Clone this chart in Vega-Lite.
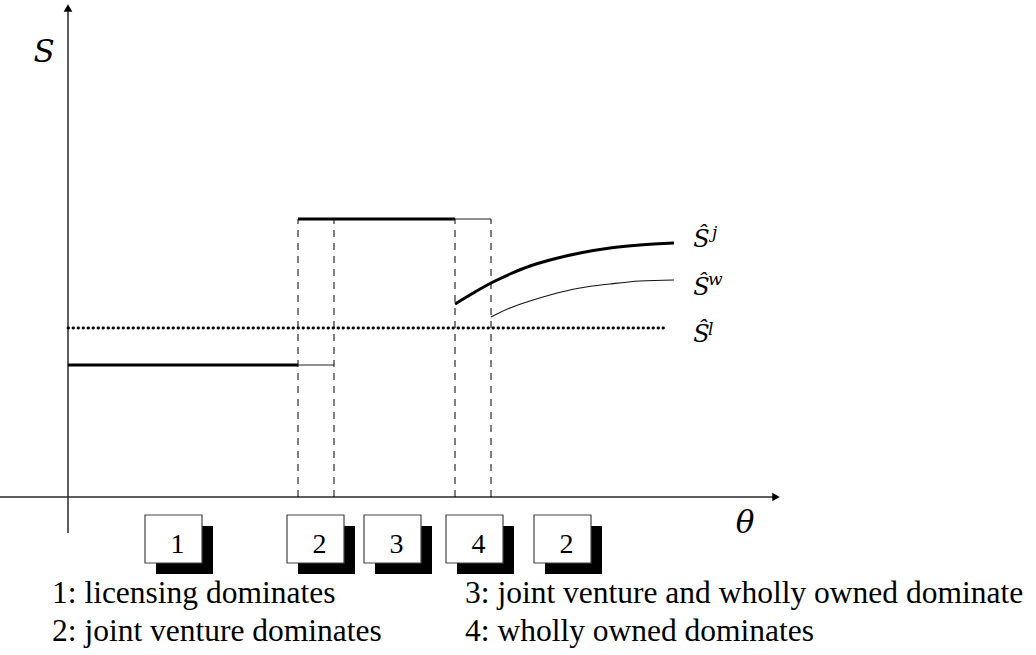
{
  "$schema": "https://vega.github.io/schema/vega-lite/v6.json",
  "width": 1036,
  "height": 655,
  "padding": 0,
  "autosize": {"type": "none"},
  "background": "white",
  "config": {"view": {"stroke": null}},
  "datasets": {
    "axes": [
      {"t": 0, "s": -36, "t2": 0, "s2": 486},
      {"t": -68, "s": 0, "t2": 705, "s2": 0}
    ],
    "arrows": [
      {"t": 0, "s": 489, "dir": "up"},
      {"t": 708, "s": 0, "dir": "right"}
    ],
    "thick": [
      {"t": 0, "s": 132, "t2": 230, "s2": 132},
      {"t": 230, "s": 278, "t2": 387, "s2": 278}
    ],
    "thin": [
      {"t": 230, "s": 132, "t2": 266, "s2": 132},
      {"t": 387, "s": 278, "t2": 423, "s2": 278}
    ],
    "dashed": [
      {"t": 230, "s": 0, "t2": 230, "s2": 278},
      {"t": 266, "s": 0, "t2": 266, "s2": 278},
      {"t": 387, "s": 0, "t2": 387, "s2": 278},
      {"t": 423, "s": 0, "t2": 423, "s2": 278}
    ],
    "dotted": [
      {"t": 0, "s": 169, "t2": 600, "s2": 169}
    ],
    "curveJ": [
      {"t": 387, "s": 193}, {"t": 407, "s": 205}, {"t": 423, "s": 214},
      {"t": 442, "s": 223}, {"t": 462, "s": 231}, {"t": 482, "s": 237},
      {"t": 512, "s": 244}, {"t": 542, "s": 249}, {"t": 572, "s": 252},
      {"t": 606, "s": 254}
    ],
    "curveW": [
      {"t": 423, "s": 180}, {"t": 442, "s": 189}, {"t": 462, "s": 196},
      {"t": 482, "s": 202}, {"t": 512, "s": 209}, {"t": 542, "s": 213},
      {"t": 572, "s": 216}, {"t": 606, "s": 217}
    ],
    "boxes": [
      {"t": 77, "t2": 134, "s": -18, "s2": -66, "tc": 105.5, "sb": -56, "label": "1"},
      {"t": 219, "t2": 276, "s": -18, "s2": -66, "tc": 247.5, "sb": -56, "label": "2"},
      {"t": 296, "t2": 353, "s": -18, "s2": -66, "tc": 324.5, "sb": -56, "label": "3"},
      {"t": 378, "t2": 435, "s": -18, "s2": -66, "tc": 406.5, "sb": -56, "label": "4"},
      {"t": 466, "t2": 523, "s": -18, "s2": -66, "tc": 494.5, "sb": -56, "label": "2"}
    ],
    "legend": [
      {"t": -16, "s": -106, "label": "1: licensing dominates"},
      {"t": -16, "s": -144, "label": "2: joint venture dominates"},
      {"t": 397, "s": -106, "label": "3: joint venture and wholly owned dominate"},
      {"t": 397, "s": -144, "label": "4: wholly owned dominates"}
    ],
    "hats": [
      {"t": 633.5, "s": 250, "label": "Ŝ"},
      {"t": 633.5, "s": 202, "label": "Ŝ"},
      {"t": 633.5, "s": 155, "label": "Ŝ"}
    ],
    "sups": [
      {"t": 644, "s": 259, "label": "j"},
      {"t": 640, "s": 212, "label": "w"},
      {"t": 640, "s": 162, "label": "l"}
    ],
    "axisLabels": [
      {"t": -24, "s": 435, "label": "S"},
      {"t": 677, "s": -36, "label": "θ"}
    ]
  },
  "layer": [
    {
      "data": {"name": "axes"},
      "mark": {"type": "rule", "color": "#2a2a2a", "strokeWidth": 1.5},
      "encoding": {
        "x": {"field": "t", "type": "quantitative", "scale": {"domain": [-68, 968], "nice": false, "zero": false}, "axis": null},
        "x2": {"field": "t2"},
        "y": {"field": "s", "type": "quantitative", "scale": {"domain": [-158, 497], "nice": false, "zero": false}, "axis": null},
        "y2": {"field": "s2"}
      }
    },
    {
      "data": {"name": "arrows"},
      "mark": {"type": "point", "filled": true, "color": "black", "opacity": 1, "size": 75},
      "encoding": {
        "x": {"field": "t", "type": "quantitative", "scale": {"domain": [-68, 968], "nice": false, "zero": false}, "axis": null},
        "y": {"field": "s", "type": "quantitative", "scale": {"domain": [-158, 497], "nice": false, "zero": false}, "axis": null},
        "shape": {"field": "dir", "type": "nominal", "scale": {"domain": ["up", "right"], "range": ["triangle-up", "triangle-right"]}, "legend": null}
      }
    },
    {
      "data": {"name": "thick"},
      "mark": {"type": "rule", "color": "black", "strokeWidth": 3},
      "encoding": {
        "x": {"field": "t", "type": "quantitative", "scale": {"domain": [-68, 968], "nice": false, "zero": false}, "axis": null},
        "x2": {"field": "t2"},
        "y": {"field": "s", "type": "quantitative", "scale": {"domain": [-158, 497], "nice": false, "zero": false}, "axis": null},
        "y2": {"field": "s2"}
      }
    },
    {
      "data": {"name": "thin"},
      "mark": {"type": "rule", "color": "#222", "strokeWidth": 1},
      "encoding": {
        "x": {"field": "t", "type": "quantitative", "scale": {"domain": [-68, 968], "nice": false, "zero": false}, "axis": null},
        "x2": {"field": "t2"},
        "y": {"field": "s", "type": "quantitative", "scale": {"domain": [-158, 497], "nice": false, "zero": false}, "axis": null},
        "y2": {"field": "s2"}
      }
    },
    {
      "data": {"name": "dashed"},
      "mark": {"type": "rule", "color": "black", "strokeWidth": 1, "strokeDash": [7, 6]},
      "encoding": {
        "x": {"field": "t", "type": "quantitative", "scale": {"domain": [-68, 968], "nice": false, "zero": false}, "axis": null},
        "x2": {"field": "t2"},
        "y": {"field": "s", "type": "quantitative", "scale": {"domain": [-158, 497], "nice": false, "zero": false}, "axis": null},
        "y2": {"field": "s2"}
      }
    },
    {
      "data": {"name": "dotted"},
      "mark": {"type": "rule", "color": "black", "strokeWidth": 2.8, "strokeDash": [0.5, 4.5], "strokeCap": "round"},
      "encoding": {
        "x": {"field": "t", "type": "quantitative", "scale": {"domain": [-68, 968], "nice": false, "zero": false}, "axis": null},
        "x2": {"field": "t2"},
        "y": {"field": "s", "type": "quantitative", "scale": {"domain": [-158, 497], "nice": false, "zero": false}, "axis": null},
        "y2": {"field": "s2"}
      }
    },
    {
      "data": {"name": "curveJ"},
      "mark": {"type": "line", "color": "black", "strokeWidth": 3, "interpolate": "monotone"},
      "encoding": {
        "x": {"field": "t", "type": "quantitative", "scale": {"domain": [-68, 968], "nice": false, "zero": false}, "axis": null},
        "y": {"field": "s", "type": "quantitative", "scale": {"domain": [-158, 497], "nice": false, "zero": false}, "axis": null}
      }
    },
    {
      "data": {"name": "curveW"},
      "mark": {"type": "line", "color": "#111", "strokeWidth": 1.1, "interpolate": "monotone"},
      "encoding": {
        "x": {"field": "t", "type": "quantitative", "scale": {"domain": [-68, 968], "nice": false, "zero": false}, "axis": null},
        "y": {"field": "s", "type": "quantitative", "scale": {"domain": [-158, 497], "nice": false, "zero": false}, "axis": null}
      }
    },
    {
      "data": {"name": "boxes"},
      "mark": {"type": "rect", "color": "black", "xOffset": 11, "x2Offset": 11, "yOffset": 11, "y2Offset": 11},
      "encoding": {
        "x": {"field": "t", "type": "quantitative", "scale": {"domain": [-68, 968], "nice": false, "zero": false}, "axis": null},
        "x2": {"field": "t2"},
        "y": {"field": "s", "type": "quantitative", "scale": {"domain": [-158, 497], "nice": false, "zero": false}, "axis": null},
        "y2": {"field": "s2"}
      }
    },
    {
      "data": {"name": "boxes"},
      "mark": {"type": "rect", "fill": "white", "stroke": "#444", "strokeWidth": 1.2},
      "encoding": {
        "x": {"field": "t", "type": "quantitative", "scale": {"domain": [-68, 968], "nice": false, "zero": false}, "axis": null},
        "x2": {"field": "t2"},
        "y": {"field": "s", "type": "quantitative", "scale": {"domain": [-158, 497], "nice": false, "zero": false}, "axis": null},
        "y2": {"field": "s2"}
      }
    },
    {
      "data": {"name": "boxes"},
      "mark": {"type": "text", "font": "Liberation Serif", "fontSize": 28, "color": "black", "align": "center", "baseline": "alphabetic", "dx": 4},
      "encoding": {
        "x": {"field": "tc", "type": "quantitative", "scale": {"domain": [-68, 968], "nice": false, "zero": false}, "axis": null},
        "y": {"field": "sb", "type": "quantitative", "scale": {"domain": [-158, 497], "nice": false, "zero": false}, "axis": null},
        "text": {"field": "label"}
      }
    },
    {
      "data": {"name": "legend"},
      "mark": {"type": "text", "font": "Liberation Serif", "fontSize": 31.5, "color": "black", "align": "left", "baseline": "alphabetic"},
      "encoding": {
        "x": {"field": "t", "type": "quantitative", "scale": {"domain": [-68, 968], "nice": false, "zero": false}, "axis": null},
        "y": {"field": "s", "type": "quantitative", "scale": {"domain": [-158, 497], "nice": false, "zero": false}, "axis": null},
        "text": {"field": "label"}
      }
    },
    {
      "data": {"name": "hats"},
      "mark": {"type": "text", "font": "DejaVu Serif", "fontStyle": "italic", "fontSize": 24, "color": "black", "align": "center", "baseline": "alphabetic"},
      "encoding": {
        "x": {"field": "t", "type": "quantitative", "scale": {"domain": [-68, 968], "nice": false, "zero": false}, "axis": null},
        "y": {"field": "s", "type": "quantitative", "scale": {"domain": [-158, 497], "nice": false, "zero": false}, "axis": null},
        "text": {"field": "label"}
      }
    },
    {
      "data": {"name": "sups"},
      "mark": {"type": "text", "font": "DejaVu Serif", "fontStyle": "italic", "fontSize": 17, "color": "black", "align": "left", "baseline": "alphabetic"},
      "encoding": {
        "x": {"field": "t", "type": "quantitative", "scale": {"domain": [-68, 968], "nice": false, "zero": false}, "axis": null},
        "y": {"field": "s", "type": "quantitative", "scale": {"domain": [-158, 497], "nice": false, "zero": false}, "axis": null},
        "text": {"field": "label"}
      }
    },
    {
      "data": {"name": "axisLabels"},
      "mark": {"type": "text", "font": "DejaVu Serif", "fontStyle": "italic", "fontSize": 31, "color": "black", "align": "center", "baseline": "alphabetic"},
      "encoding": {
        "x": {"field": "t", "type": "quantitative", "scale": {"domain": [-68, 968], "nice": false, "zero": false}, "axis": null},
        "y": {"field": "s", "type": "quantitative", "scale": {"domain": [-158, 497], "nice": false, "zero": false}, "axis": null},
        "text": {"field": "label"}
      }
    }
  ]
}
